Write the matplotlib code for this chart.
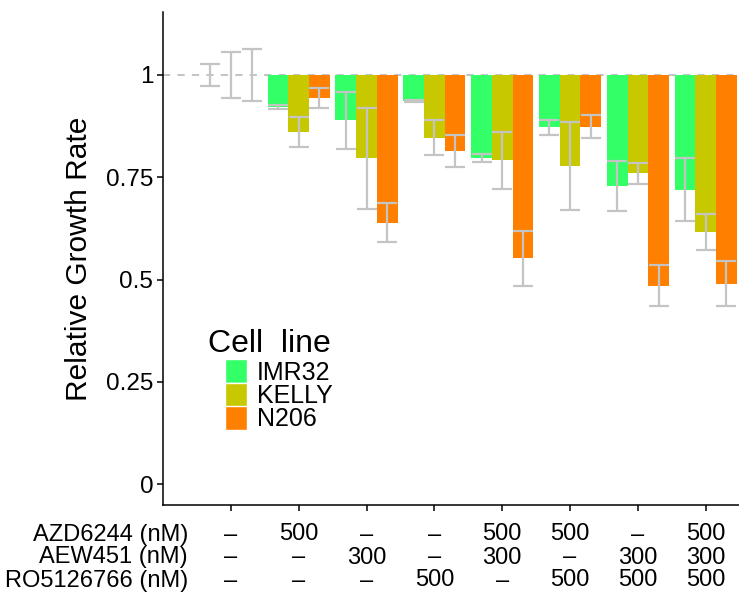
import numpy as np
import matplotlib
matplotlib.use("Agg")
import matplotlib.pyplot as plt
from matplotlib.patches import Patch

plt.rcParams["font.family"] = ["Liberation Sans", "DejaVu Sans"]

# treatment rows shown under the x axis (one column per condition)
drug_names = ["AZD6244 (nM)", "AEW451 (nM)", "RO5126766 (nM)"]
azd6244 = ["–", "500", "–", "–", "500", "500", "–", "500"]
aew451 = ["–", "–", "300", "–", "300", "–", "300", "300"]
ro5126766 = ["–", "–", "–", "500", "–", "500", "500", "500"]

cell_lines = ["IMR32", "KELLY", "N206"]
colors = ["#33ff66", "#c8c800", "#ff7f00"]

# mean relative growth rate per condition
imr32 = [1.0, 0.921, 0.889, 0.937, 0.797, 0.872, 0.728, 0.720]
kelly = [1.0, 0.861, 0.796, 0.847, 0.791, 0.778, 0.760, 0.617]
n206 = [1.0, 0.944, 0.639, 0.814, 0.552, 0.874, 0.485, 0.490]

# standard deviations
imr32_err = [0.028, 0.005, 0.070, 0.003, 0.009, 0.018, 0.061, 0.077]
kelly_err = [0.057, 0.037, 0.124, 0.043, 0.069, 0.107, 0.026, 0.044]
n206_err = [0.064, 0.024, 0.048, 0.039, 0.067, 0.029, 0.050, 0.056]

means = [imr32, kelly, n206]
errs = [imr32_err, kelly_err, n206_err]

W, H = 739, 593
fig = plt.figure(figsize=(W / 100, H / 100), dpi=100)
ax = fig.add_axes([163 / W, 1 - 505 / H, 1 - 163 / W, (505 - 12) / H])

x = np.arange(1, len(imr32) + 1)
bw = 0.305
offsets = [-bw, 0, bw]

# reference line at 1 (untreated)
ax.axhline(1, color="#bebebe", lw=1.3, dashes=(4, 4), zorder=1)

for m, e, c, off in zip(means, errs, colors, offsets):
    m = np.array(m)
    ax.bar(x + off, m - 1, bottom=1, width=bw, color=c, linewidth=0, zorder=2)
    ax.errorbar(x + off, m, yerr=e, fmt="none", ecolor="#c4c4c4",
                elinewidth=1.6, capsize=7.2, capthick=1.6, zorder=3)

ax.set_xlim(0, 8.49)
ax.set_ylim(-0.0513, 1.154)
ax.set_yticks([0, 0.25, 0.5, 0.75, 1])
ax.set_yticklabels(["0", "0.25", "0.5", "0.75", "1"])
ax.set_xticks(x)
ax.set_xticklabels([])
ax.tick_params(axis="both", length=4, width=1.1, color="black",
               labelsize=17.5, pad=3)
for side in ["top", "right"]:
    ax.spines[side].set_visible(False)
for side in ["left", "bottom"]:
    ax.spines[side].set_linewidth(1.1)
ax.set_ylabel("Relative Growth Rate", fontsize=21.5, labelpad=9)

# treatment table under the axis
trans = ax.get_xaxis_transform()
ax_h = 505 - 12
rows = [azd6244, aew451, ro5126766]
for r, (name, vals) in enumerate(zip(drug_names, rows)):
    y_px = 532 + 23 * r
    fig.text(188 / W, 1 - y_px / H, name, ha="right", va="center_baseline",
             fontsize=17)
    for xi, v in zip(x, vals):
        ax.text(xi, -(y_px - 505) / ax_h, v, transform=trans, ha="center",
                va="center_baseline", fontsize=17, clip_on=False)

# legend
handles = [Patch(facecolor=c, edgecolor="white", linewidth=1) for c in colors]
fig.text(208 / W, 1 - 340 / H, "Cell  line", fontsize=23, ha="left",
         va="center_baseline")
fig.legend(handles, cell_lines, loc="upper left",
           bbox_to_anchor=(225 / W, 1 - 359 / H), frameon=False, fontsize=18,
           handlelength=0.88, handleheight=1.1, labelspacing=-0.08,
           handletextpad=0.4, borderpad=0, borderaxespad=0)

fig.savefig("out.png", dpi=100)
